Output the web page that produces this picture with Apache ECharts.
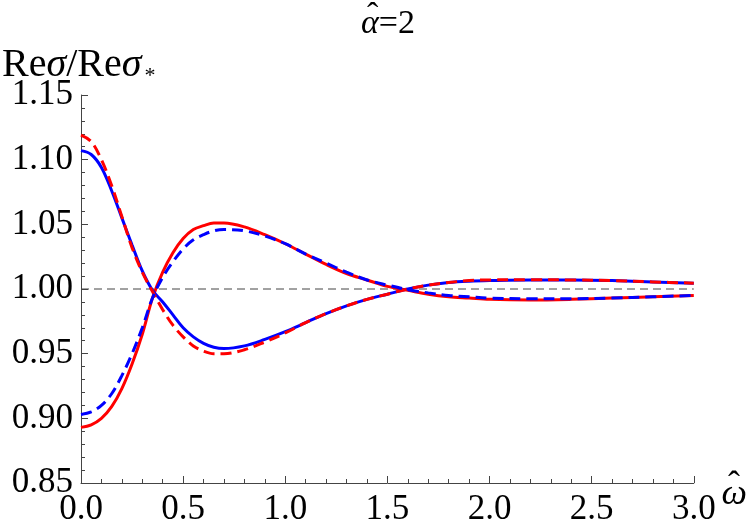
<!DOCTYPE html>
<html>
<head>
<meta charset="utf-8">
<script src="https://cdn.jsdelivr.net/npm/echarts@6/dist/echarts.min.js"></script>
<style>html,body{margin:0;padding:0;background:#fff;}#c{width:750px;height:532px;}</style>
</head>
<body>
<div id="c"></div>
<script>
const omega = [0,0.05,0.1,0.15,0.2,0.25,0.3,0.35,0.4,0.45,0.5,0.55,0.6,0.65,0.7,0.8,0.9,1.0,1.1,1.2,1.3,1.4,1.5,1.6,1.7,1.8,1.9,2.0,2.2,2.4,2.6,2.8,3.0];
const redSolid = [0.893,0.895,0.900,0.909,0.923,0.942,0.965,0.993,1.013,1.028,1.039,1.046,1.049,1.051,1.051,1.048,1.042,1.035,1.027,1.019,1.012,1.007,1.002,0.999,0.996,0.994,0.993,0.992,0.9915,0.992,0.993,0.994,0.995];
const blueDashed = [0.903,0.905,0.910,0.919,0.933,0.950,0.970,0.993,1.009,1.021,1.031,1.038,1.042,1.045,1.046,1.045,1.041,1.035,1.027,1.020,1.013,1.007,1.003,0.9995,0.997,0.995,0.994,0.993,0.9925,0.9925,0.993,0.994,0.995];
const blueSolid = [1.107,1.104,1.094,1.076,1.055,1.034,1.014,0.999,0.990,0.980,0.970,0.963,0.958,0.955,0.954,0.956,0.961,0.967,0.974,0.981,0.987,0.992,0.996,1.000,1.003,1.005,1.006,1.0065,1.007,1.007,1.0065,1.0055,1.0045];
const redDashed = [1.119,1.114,1.100,1.080,1.056,1.032,1.013,0.998,0.984,0.972,0.963,0.956,0.952,0.950,0.950,0.953,0.959,0.966,0.974,0.981,0.987,0.992,0.996,1.000,1.003,1.005,1.0065,1.007,1.0072,1.007,1.0065,1.0055,1.0045];
const refLevel = 1.0;
const xTicks = {min: 0, max: 3, step: 0.5};
const yTicks = {min: 0.85, max: 1.15, step: 0.05};

const pairs = ys => omega.map((x, i) => [x, ys[i]]);
const serif = '"Liberation Serif", "Times New Roman", serif';
const chart = echarts.init(document.getElementById('c'), null, {renderer: 'canvas'});
const lineSeries = (name, ys, color, dashed) => ({
  name, type: 'line', data: pairs(ys), smooth: 0.35, showSymbol: false, symbol: 'none',
  lineStyle: {color, width: 3, type: dashed ? [11, 6] : 'solid', cap: 'butt'},
  z: dashed ? 4 : 3, animation: false
});
const txt = (size, extra) => Object.assign({fontFamily: serif, fontSize: size, fontWeight: 'normal', color: '#000'}, extra || {});
chart.setOption({
  animation: false,
  title: [
    {text: '{a|α}{b|=2}', left: 361, top: 7, padding: 0,
     textStyle: {fontWeight: 'normal', rich: {a: txt(34, {fontStyle: 'italic'}), b: txt(34)}}},
    {text: 'ˆ', left: 367, top: 0, padding: 0, textStyle: txt(34)},
    {text: '{r|Re}{s|σ}{r|/Re}{s|σ}{u|*}', left: 2, top: 43, padding: 0,
     textStyle: {fontWeight: 'normal', rich: {
       r: txt(40), s: txt(40, {fontStyle: 'italic'}),
       u: txt(22, {padding: [22, 0, 0, 3]})}}}
  ],
  graphic: [
    {type: 'text', x: 728, y: 469, z: 10, style: {text: 'ˆ', font: '36px ' + serif, fill: '#000'}}
  ],
  grid: {left: 81, right: 42, top: 95, bottom: 49, containLabel: false},
  xAxis: {
    type: 'value', min: xTicks.min, max: xTicks.max, interval: xTicks.step,
    name: '{w|ω}', nameLocation: 'end', nameGap: 10,
    nameTextStyle: {verticalAlign: 'middle', rich: {w: txt(36, {fontStyle: 'italic', padding: [24, 0, 0, 0]})}},
    axisLine: {show: true, onZero: false, lineStyle: {color: '#444', width: 1}},
    axisTick: {show: true, inside: true, length: 7, lineStyle: {color: '#444'}},
    minorTick: {show: true, splitNumber: 5, length: 4, lineStyle: {color: '#444'}},
    splitLine: {show: false},
    axisLabel: {fontFamily: serif, fontSize: 35, color: '#000', margin: 9, formatter: v => v.toFixed(1)}
  },
  yAxis: {
    type: 'value', min: yTicks.min, max: yTicks.max, interval: yTicks.step,
    axisLine: {show: true, onZero: false, lineStyle: {color: '#444', width: 1}},
    axisTick: {show: true, inside: true, length: 7, lineStyle: {color: '#444'}},
    minorTick: {show: true, splitNumber: 5, length: 4, lineStyle: {color: '#444'}},
    splitLine: {show: false},
    axisLabel: {fontFamily: serif, fontSize: 35, color: '#000', margin: 8, formatter: v => v.toFixed(2)}
  },
  series: [
    Object.assign(lineSeries('ref', [], '#444', false), {
      data: [[xTicks.min, refLevel], [xTicks.max, refLevel]], smooth: false,
      lineStyle: {color: '#444', width: 1, type: [8, 5]}, z: 1
    }),
    lineSeries('red solid', redSolid, '#ff0000', false),
    lineSeries('blue solid', blueSolid, '#0000ff', false),
    lineSeries('red dashed', redDashed, '#ff0000', true),
    lineSeries('blue dashed', blueDashed, '#0000ff', true)
  ]
});
</script>
</body>
</html>
